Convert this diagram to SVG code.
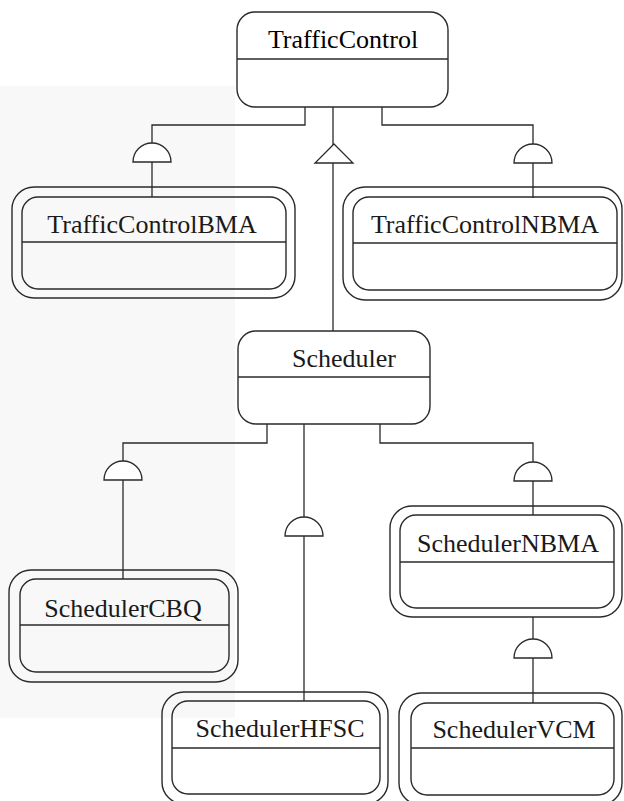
<svg xmlns="http://www.w3.org/2000/svg" width="624" height="801" viewBox="0 0 624 801">
  <style>
    .box { fill: none; stroke: #2a2a2a; stroke-width: 1.4; }
    .div { stroke: #2a2a2a; stroke-width: 1.3; }
    .wire { fill: none; stroke: #2a2a2a; stroke-width: 1.3; }
    .sym { fill: #ffffff; stroke: #2a2a2a; stroke-width: 1.3; }
    .lbl { font-family: "Liberation Serif", "Times New Roman", serif; font-size: 26px; fill: #1a1a1a; text-anchor: middle; }
  </style>
  <rect width="624" height="801" fill="#ffffff"/>
  <rect x="0" y="86" width="235" height="632" fill="#f8f8f8"/>

  <!-- connectors -->
  <g id="connectors">
    <!-- TrafficControl to subclasses -->
    <path class="wire" d="M305,107 V125 H152 V197"/>
    <path class="wire" d="M382,107 V125 H533 V198"/>
    <path class="wire" d="M333,107 V331"/>
    <!-- Scheduler to subclasses -->
    <path class="wire" d="M267,424 V443 H123 V579"/>
    <path class="wire" d="M304,424 V701"/>
    <path class="wire" d="M380,424 V443 H533 V515"/>
    <path class="wire" d="M533,617 V703"/>
    <!-- aggregation / inheritance symbols -->
    <path class="sym" d="M133,162 A19,19 0 0 1 171,162 Z"/>
    <path class="sym" d="M514,163 A19,19 0 0 1 552,163 Z"/>
    <path class="sym" d="M334,144 L353,163 L315,163 Z"/>
    <path class="sym" d="M104,480 A19,19 0 0 1 142,480 Z"/>
    <path class="sym" d="M285,536 A19,19 0 0 1 323,536 Z"/>
    <path class="sym" d="M514,481 A19,19 0 0 1 552,481 Z"/>
    <path class="sym" d="M514,658 A19,19 0 0 1 552,658 Z"/>
  </g>

  <g id="TrafficControl">
    <rect class="box" x="237" y="12" width="211" height="95" rx="18"/>
    <line class="div" x1="237" y1="59" x2="448" y2="59"/>
    <text class="lbl" x="343" y="48" style="fill:#000">TrafficControl</text>
  </g>

  <g id="TrafficControlBMA">
    <rect class="box" x="12" y="187" width="283" height="111" rx="22"/>
    <rect class="box" x="22" y="197" width="264" height="92" rx="16"/>
    <line class="div" x1="22" y1="242" x2="286" y2="242"/>
    <text class="lbl" x="152" y="233">TrafficControlBMA</text>
  </g>

  <g id="TrafficControlNBMA">
    <rect class="box" x="343" y="187" width="279" height="113" rx="22"/>
    <rect class="box" x="353" y="197" width="264" height="93" rx="16"/>
    <line class="div" x1="353" y1="243" x2="617" y2="243"/>
    <text class="lbl" x="485" y="233">TrafficControlNBMA</text>
  </g>

  <g id="Scheduler">
    <rect class="box" x="238" y="331" width="192" height="93" rx="18"/>
    <line class="div" x1="238" y1="377" x2="430" y2="377"/>
    <text class="lbl" x="344" y="367">Scheduler</text>
  </g>

  <g id="SchedulerCBQ">
    <rect class="box" x="9" y="570" width="229" height="112" rx="22"/>
    <rect class="box" x="20" y="579" width="209" height="93" rx="16"/>
    <line class="div" x1="20" y1="625" x2="229" y2="625"/>
    <text class="lbl" x="123" y="617">SchedulerCBQ</text>
  </g>

  <g id="SchedulerHFSC">
    <rect class="box" x="162" y="692" width="226" height="112" rx="22"/>
    <rect class="box" x="172" y="701" width="208" height="93" rx="16"/>
    <line class="div" x1="172" y1="748" x2="380" y2="748"/>
    <text class="lbl" x="280" y="737">SchedulerHFSC</text>
  </g>

  <g id="SchedulerNBMA">
    <rect class="box" x="390" y="506" width="232" height="111" rx="22"/>
    <rect class="box" x="400" y="515" width="214" height="93" rx="16"/>
    <line class="div" x1="400" y1="562" x2="614" y2="562"/>
    <text class="lbl" x="508" y="552">SchedulerNBMA</text>
  </g>

  <g id="SchedulerVCM">
    <rect class="box" x="399" y="693" width="223" height="112" rx="22"/>
    <rect class="box" x="411" y="703" width="203" height="92" rx="16"/>
    <line class="div" x1="411" y1="748" x2="614" y2="748"/>
    <text class="lbl" x="514" y="738">SchedulerVCM</text>
  </g>
</svg>
